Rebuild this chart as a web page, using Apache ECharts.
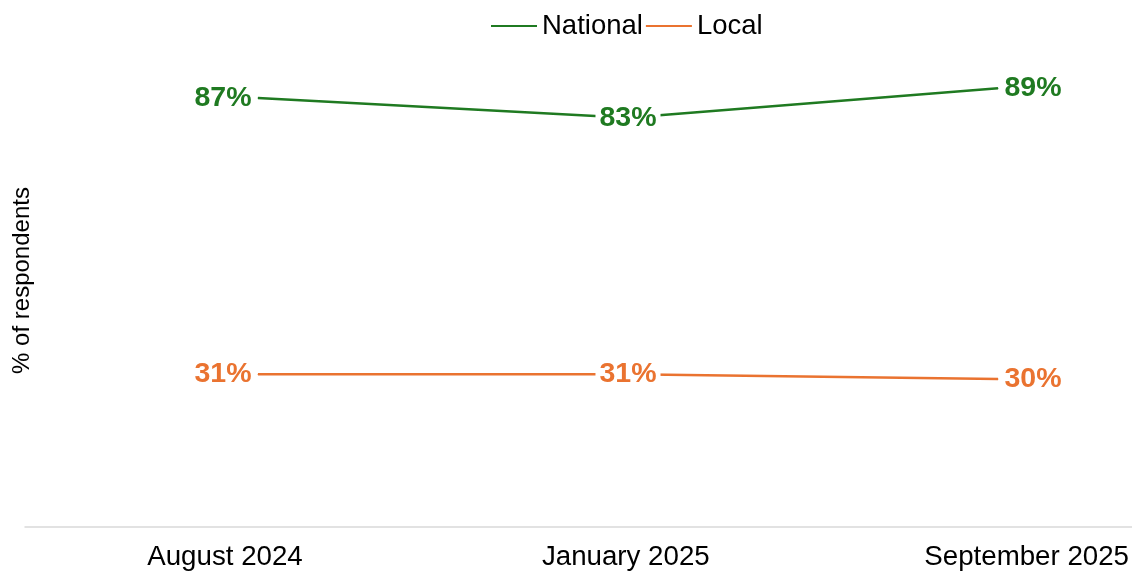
<!DOCTYPE html>
<html>
<head>
<meta charset="utf-8">
<script src="https://cdn.jsdelivr.net/npm/echarts@6/dist/echarts.min.js"></script>
<style>
  html, body { margin: 0; padding: 0; background: #fff; }
  #chart { width: 1132px; height: 573px; }
</style>
</head>
<body>
<div id="chart"></div>
<script>
// survey waves
const categories = ['August 2024', 'January 2025', 'September 2025'];
const national = [87, 83, 89];
const local = [31, 31, 30];

const GREEN = '#1f7a21';
const ORANGE = '#ea7330';
const FONT = 'Liberation Sans, Arial, sans-serif';

// first label sits left of the point, middle on it, last to the right
const labelPos = ['left', 'inside', 'right'];

function points(values, color) {
  return values.map((v, i) => ({
    value: v,
    label: {
      position: labelPos[i],
      backgroundColor: i === 1 ? '#fff' : 'transparent',
      padding: i === 1 ? [0, 4] : 0
    }
  }));
}

function lineSeries(name, values, color) {
  return {
    name: name,
    type: 'line',
    xAxisIndex: 0,
    yAxisIndex: 0,
    data: points(values, color),
    symbol: 'circle',
    symbolSize: 1,
    itemStyle: { color: color },
    lineStyle: { color: color, width: 2.5 },
    label: {
      show: true,
      formatter: '{c}%',
      color: color,
      fontFamily: FONT,
      fontWeight: 'bold',
      fontSize: 28.5,
      distance: 6
    },
    emphasis: { disabled: true }
  };
}

const chart = echarts.init(document.getElementById('chart'));
chart.setOption({
  animation: false,
  legend: {
    left: 486,
    top: 7,
    icon: 'rect',
    itemWidth: 46,
    itemHeight: 2,
    itemGap: 3,
    textStyle: { fontFamily: FONT, fontSize: 27.5, color: '#000' },
    data: ['National', 'Local']
  },
  grid: [
    { left: 258, right: 134, top: 34, bottom: 46 },
    { left: 225, right: 102, top: 34, bottom: 46 },
    { left: 25, right: 0, top: 34, bottom: 46 }
  ],
  xAxis: [
    {
      gridIndex: 0, type: 'category', data: categories, boundaryGap: false,
      show: false
    },
    {
      gridIndex: 1, type: 'category', data: categories, boundaryGap: false,
      axisLine: { show: false }, axisTick: { show: false },
      axisLabel: { fontFamily: FONT, fontSize: 27.7, color: '#000', margin: 16 }
    },
    {
      gridIndex: 2, type: 'value', min: 0, max: 1,
      axisLine: { show: true, lineStyle: { color: '#d9d9d9', width: 1.5 } },
      axisTick: { show: false }, axisLabel: { show: false }, splitLine: { show: false }
    }
  ],
  yAxis: [
    {
      gridIndex: 0, type: 'value', min: 0, max: 100,
      name: '% of respondents', nameLocation: 'middle', nameGap: 224,
      nameTextStyle: { fontFamily: FONT, fontSize: 24, color: '#000' },
      axisLine: { show: false }, axisTick: { show: false },
      axisLabel: { show: false }, splitLine: { show: false }
    },
    { gridIndex: 1, type: 'value', show: false },
    { gridIndex: 2, type: 'value', show: false }
  ],
  series: [
    lineSeries('National', national, GREEN),
    lineSeries('Local', local, ORANGE)
  ]
});
</script>
</body>
</html>
